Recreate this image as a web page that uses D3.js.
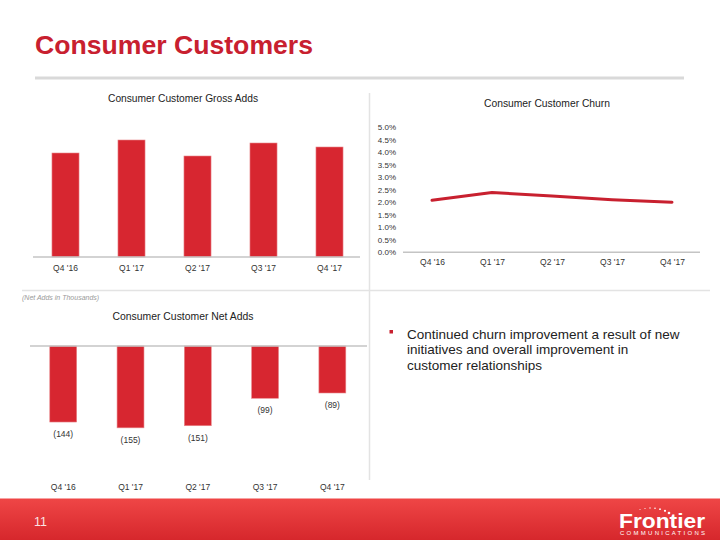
<!DOCTYPE html>
<html>
<head>
<meta charset="utf-8">
<script src="https://cdn.jsdelivr.net/npm/d3@7"></script>
<style>
html,body{margin:0;padding:0;background:#fff;}
svg{display:block;}
</style>
</head>
<body>
<svg id="c" width="720" height="540"></svg>
<script>
// ---------------- data ----------------
const quarters = ["Q4 '16", "Q1 '17", "Q2 '17", "Q3 '17", "Q4 '17"];
const grossAdds = [104, 117, 101, 114, 110];          // relative (no axis shown)
const churnRate = [0.0208, 0.0239, 0.0225, 0.0210, 0.0200];
const netAdds = [-144, -155, -151, -99, -89];
const churnTicks = [0, 0.005, 0.01, 0.015, 0.02, 0.025, 0.03, 0.035, 0.04, 0.045, 0.05];
const bulletLines = ["Continued churn improvement a result of new", "initiatives and overall improvement in", "customer relationships"];

const RED = "#d72630";
const FONT = "'Liberation Sans', Arial, sans-serif";
const svg = d3.select("#c");

// ---------------- header ----------------
svg.append("text").attr("x", 35).attr("y", 54)
  .attr("font-family", FONT).attr("font-weight", "bold").attr("font-size", 26)
  .attr("fill", "#c8202f").attr("textLength", 278).attr("lengthAdjust", "spacingAndGlyphs")
  .text("Consumer Customers");
svg.append("line").attr("x1", 35).attr("x2", 684).attr("y1", 78).attr("y2", 78)
  .attr("stroke", "#d9d9d9").attr("stroke-width", 3);

// dividers
svg.append("line").attr("x1", 369.5).attr("x2", 369.5).attr("y1", 93).attr("y2", 480)
  .attr("stroke", "#e3e3e3").attr("stroke-width", 1.5);
svg.append("line").attr("x1", 22).attr("x2", 710).attr("y1", 290.5).attr("y2", 290.5)
  .attr("stroke", "#e3e3e3").attr("stroke-width", 1.5);

function title(x, y, t, w) {
  svg.append("text").attr("x", x).attr("y", y).attr("text-anchor", "middle")
    .attr("font-family", FONT).attr("font-size", 11).attr("fill", "#222")
    .attr("textLength", w).attr("lengthAdjust", "spacingAndGlyphs").text(t);
}

// ---------------- Gross adds ----------------
title(183, 102, "Consumer Customer Gross Adds", 150);
const xg = d3.scaleBand().domain(quarters).range([32.5, 362.5]).paddingInner(0.59).paddingOuter(0.295);
const yg = d3.scaleLinear().domain([0, 150]).range([257, 107]);
svg.append("g").selectAll("rect").data(grossAdds).join("rect")
  .attr("x", (d, i) => xg(quarters[i])).attr("width", xg.bandwidth())
  .attr("y", d => yg(d)).attr("height", d => yg(0) - yg(d))
  .attr("fill", RED).attr("stroke", "#e8878b").attr("stroke-width", 0.6);
const gxa = svg.append("g").attr("transform", "translate(0,257)")
  .call(d3.axisBottom(xg).tickSize(0).tickPadding(8));
gxa.select(".domain").attr("stroke", "#c4c4c4").attr("stroke-width", 1.5).attr("d", "M33,0H360");
gxa.selectAll("text").attr("font-family", FONT).attr("font-size", 8.5).attr("fill", "#333");

// ---------------- Churn ----------------
title(547, 107, "Consumer Customer Churn", 126);
const xc = d3.scalePoint().domain(quarters).range([402, 702]).padding(0.5);
const yc = d3.scaleLinear().domain([0, 0.05]).range([252.3, 127.3]);
const ycAxis = svg.append("g").attr("transform", "translate(398,0)")
  .call(d3.axisLeft(yc).tickValues(churnTicks).tickFormat(d3.format(".1%")).tickSize(0).tickPadding(2));
ycAxis.select(".domain").remove();
ycAxis.selectAll("text").attr("font-family", FONT).attr("font-size", 8).attr("fill", "#333");
const xcAxis = svg.append("g").attr("transform", "translate(0,252.3)")
  .call(d3.axisBottom(xc).tickSize(0).tickPadding(7));
xcAxis.select(".domain").attr("stroke", "#c4c4c4").attr("stroke-width", 1.5).attr("d", "M403,0H700");
xcAxis.selectAll("text").attr("font-family", FONT).attr("font-size", 8.5).attr("fill", "#333");
svg.append("path").datum(churnRate)
  .attr("d", d3.line().x((d, i) => xc(quarters[i])).y(d => yc(d)))
  .attr("fill", "none").attr("stroke", "#c8202f").attr("stroke-width", 3)
  .attr("stroke-linejoin", "round").attr("stroke-linecap", "round");

// ---------------- Net adds ----------------
svg.append("text").attr("x", 22).attr("y", 299.5)
  .attr("font-family", FONT).attr("font-size", 7).attr("font-style", "italic").attr("fill", "#9a9a9a")
  .text("(Net Adds in Thousands)");
title(183, 320, "Consumer Customer Net Adds", 141);
const xn = d3.scaleBand().domain(quarters).range([29.6, 366]).paddingInner(0.6).paddingOuter(0.3);
const yn = d3.scaleLinear().domain([0, -200]).range([346, 451.6]);
svg.append("g").selectAll("rect").data(netAdds).join("rect")
  .attr("x", (d, i) => xn(quarters[i])).attr("width", xn.bandwidth())
  .attr("y", yn(0)).attr("height", d => yn(d) - yn(0))
  .attr("fill", RED).attr("stroke", "#e8878b").attr("stroke-width", 0.6);
svg.append("line").attr("x1", 30).attr("x2", 367).attr("y1", yn(0)).attr("y2", yn(0))
  .attr("stroke", "#c4c4c4").attr("stroke-width", 1.5);
svg.append("g").selectAll("text").data(netAdds).join("text")
  .attr("x", (d, i) => xn(quarters[i]) + xn.bandwidth() / 2)
  .attr("y", d => yn(d) + 15)
  .attr("text-anchor", "middle").attr("font-family", FONT).attr("font-size", 8.5).attr("fill", "#333")
  .text(d => "(" + Math.abs(d) + ")");
const xnAxis = svg.append("g").attr("transform", "translate(0,477)")
  .call(d3.axisBottom(xn).tickSize(0).tickPadding(7));
xnAxis.select(".domain").remove();
xnAxis.selectAll("text").attr("font-family", FONT).attr("font-size", 8.5).attr("fill", "#333");

// ---------------- bullet ----------------
svg.append("rect").attr("x", 389.5).attr("y", 330).attr("width", 3.5).attr("height", 3.5).attr("fill", "#c8202f");
svg.append("g").selectAll("text").data(bulletLines).join("text")
  .attr("x", 407).attr("y", (d, i) => 338.5 + i * 15.5)
  .attr("font-family", FONT).attr("font-size", 13.5).attr("fill", "#222")
  .text(d => d);

// ---------------- footer ----------------
const defs = svg.append("defs");
const grad = defs.append("linearGradient").attr("id", "fg").attr("x1", 0).attr("y1", 0).attr("x2", 0).attr("y2", 1);
grad.append("stop").attr("offset", "0%").attr("stop-color", "#ef4646");
grad.append("stop").attr("offset", "100%").attr("stop-color", "#d6272c");
svg.append("rect").attr("x", 0).attr("y", 498.5).attr("width", 720).attr("height", 41.5).attr("fill", "url(#fg)");
svg.append("text").attr("x", 34).attr("y", 525.5)
  .attr("font-family", FONT).attr("font-size", 12.5).attr("fill", "#fbe3e3").text("11");
svg.append("text").attr("x", 619).attr("y", 527.5)
  .attr("font-family", FONT).attr("font-weight", "bold").attr("font-size", 21).attr("fill", "#fff")
  .attr("textLength", 86).attr("lengthAdjust", "spacingAndGlyphs").text("Frontier");
svg.append("text").attr("x", 620).attr("y", 535)
  .attr("font-family", FONT).attr("font-size", 6).attr("fill", "#fff")
  .attr("textLength", 85).attr("lengthAdjust", "spacing").text("COMMUNICATIONS");
const dots = [[640, 509.5, 0.5], [645, 508.5, 0.6], [650, 508, 0.7], [655, 508.3, 0.8], [660, 509.2, 0.9], [665, 510.8, 1.1], [669, 513, 1.3]];
svg.append("g").selectAll("circle").data(dots).join("circle")
  .attr("cx", d => d[0]).attr("cy", d => d[1]).attr("r", d => d[2]).attr("fill", "#fff");
</script>
</body>
</html>
